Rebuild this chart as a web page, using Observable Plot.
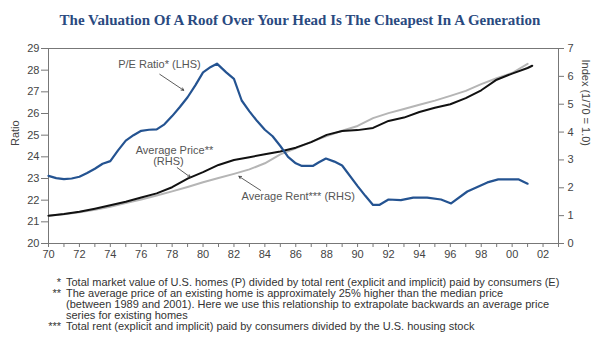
<!DOCTYPE html>
<html><head><meta charset="utf-8">
<script src="https://cdn.jsdelivr.net/npm/d3@7"></script>
<script src="https://cdn.jsdelivr.net/npm/@observablehq/plot@0.6"></script>
<style>
body{margin:0;background:#fff;width:600px;height:350px;overflow:hidden;font-family:"Liberation Sans",Arial,sans-serif;}
#title{height:38px;line-height:40px;text-align:center;font-family:"Liberation Serif","Times New Roman",serif;font-weight:bold;font-size:15px;color:#2a4a7f;white-space:nowrap;}
#notes{font-size:11px;color:#333;margin-top:14px;line-height:11px;}
.row{display:flex;white-space:nowrap;}
.mk{width:66px;text-align:right;padding-right:5px;box-sizing:border-box;flex:none;}
</style></head>
<body>
<div id="title">The Valuation Of A Roof Over Your Head Is The Cheapest In A Generation</div>
<div id="chart"></div>
<div id="notes">
<div class="row"><span class="mk">*</span><span>Total market value of U.S. homes (P) divided by total rent (explicit and implicit) paid by consumers (E)</span></div>
<div class="row"><span class="mk">**</span><span>The average price of an existing home is approximately 25% higher than the median price<br>(between 1989 and 2001). Here we use this relationship to extrapolate backwards an average price<br>series for existing homes</span></div>
<div class="row"><span class="mk">***</span><span>Total rent (explicit and implicit) paid by consumers divided by the U.S. housing stock</span></div>
</div>
<script>
// P/E ratio (LHS)
const peYears = [1970.0,1970.5,1971.0,1971.5,1972.0,1972.5,1973.0,1973.5,1974.0,1974.5,1975.0,1975.5,1976.0,1976.5,1977.0,1977.5,1978.0,1978.5,1979.0,1979.5,1980.0,1980.5,1980.9,1981.5,1982.0,1982.5,1983.0,1983.5,1984.0,1984.5,1985.0,1985.5,1986.0,1986.4,1987.1,1987.5,1987.95,1988.5,1989.0,1990.0,1990.5,1991.0,1991.4,1992.0,1992.8,1993.6,1994.5,1995.4,1996.05,1997.1,1998.4,1999.1,2000.4,2001.0];
const peValues = [23.12,23.02,22.97,23.0,23.08,23.25,23.45,23.68,23.8,24.3,24.75,25.0,25.2,25.25,25.27,25.5,25.88,26.3,26.75,27.3,27.9,28.15,28.3,27.9,27.6,26.6,26.1,25.65,25.25,24.95,24.5,24.0,23.7,23.58,23.58,23.75,23.92,23.78,23.6,22.65,22.2,21.78,21.78,22.03,22.0,22.12,22.12,22.03,21.85,22.4,22.82,22.96,22.96,22.76];
// Average price index (RHS, 1/70 = 1.0)
const priceYears = [1970,1971,1972,1973,1974,1975,1976,1977,1978,1979,1980,1981,1982,1983,1984,1985,1986,1987,1988,1989,1990,1991,1992,1993,1994,1995,1996,1997,1998,1999,2000,2001,2001.3];
const priceValues = [1.0,1.06,1.14,1.25,1.37,1.5,1.65,1.8,2.02,2.33,2.56,2.82,3.0,3.1,3.2,3.3,3.44,3.64,3.9,4.04,4.07,4.15,4.4,4.52,4.72,4.87,5.0,5.22,5.5,5.88,6.1,6.3,6.38];
// Average rent index (RHS, 1/70 = 1.0)
const rentYears = [1970,1971,1972,1973,1974,1975,1976,1977,1978,1979,1980,1981,1982,1983,1984,1985,1986,1987,1988,1989,1990,1991,1992,1993,1994,1995,1996,1997,1998,1999,2000,2001];
const rentValues = [1.0,1.05,1.12,1.21,1.32,1.45,1.58,1.72,1.87,2.03,2.2,2.35,2.5,2.66,2.88,3.2,3.42,3.65,3.86,4.05,4.22,4.5,4.68,4.83,4.98,5.13,5.3,5.48,5.72,5.93,6.12,6.45];
// Axis ticks
const leftTicks = [20,21,22,23,24,25,26,27,28,29];
const rightTicks = [0,1,2,3,4,5,6,7];
const yearTicks = d3.range(1970, 2004);
// Annotations (data units)
const annoText = ["P/E Ratio* (LHS)", "Average Price**", "(RHS)", "Average Rent*** (RHS)"];
const annoX = [1977.18, 1978.15, 1977.76, 1986.16];
const annoY = [28.27, 24.3, 23.8, 22.15];
const arrowX1 = [1977.2, 1978.33, 1983.73];
const arrowY1 = [27.81, 23.5, 22.45];
const arrowX2 = [1978.75, 1979.18, 1982.32];
const arrowY2 = [27.07, 23.06, 23.1];

// map RHS index onto LHS ratio scale: 0..7 -> 20..29
const toL = v => 20 + v * 9 / 7;
const fromL = d => (d - 20) * 7 / 9;

const pe = peYears.map((x, i) => ({x, y: peValues[i]}));
const price = priceYears.map((x, i) => ({x, y: toL(priceValues[i])}));
const rent = rentYears.map((x, i) => ({x, y: toL(rentValues[i])}));
const annos = annoText.map((t, i) => ({t, x: annoX[i], y: annoY[i]}));
const arrows = arrowX1.map((x1, i) => ({x1, y1: arrowY1[i], x2: arrowX2[i], y2: arrowY2[i]}));

const chart = Plot.plot({
  width: 600, height: 225,
  marginTop: 10, marginBottom: 20, marginLeft: 48, marginRight: 42,
  x: {domain: [1970, 2003]},
  y: {domain: [20, 29]},
  style: {fontFamily: '"Liberation Sans", Arial, sans-serif', fontSize: "11px", color: "#444", background: "#fff"},
  marks: [
    Plot.axisY({anchor: "left", ticks: leftTicks, tickSize: 7, tickPadding: 2, label: null, stroke: "#777"}),
    Plot.axisY({anchor: "right", ticks: rightTicks.map(toL), tickFormat: d => String(Math.round(fromL(d))), tickSize: 5, tickPadding: 4, label: null, stroke: "#777"}),
    Plot.axisX({ticks: yearTicks, tickFormat: d => d % 2 ? "" : String(d % 100).padStart(2, "0"), tickSize: 4, tickPadding: 3, label: null, stroke: "#777"}),
    Plot.frame({stroke: "#777"}),
    Plot.text(["Ratio"], {frameAnchor: "left", dx: -33, rotate: -90, fontSize: 11, fill: "#444"}),
    Plot.text(["Index (1/70 = 1.0)"], {frameAnchor: "right", dx: 27, rotate: 90, fontSize: 11, fill: "#444"}),
    Plot.line(rent, {x: "x", y: "y", stroke: "#b5b5b5", strokeWidth: 2}),
    Plot.line(price, {x: "x", y: "y", stroke: "#111", strokeWidth: 2}),
    Plot.line(pe, {x: "x", y: "y", stroke: "#245391", strokeWidth: 2.2}),
    Plot.arrow(arrows, {x1: "x1", y1: "y1", x2: "x2", y2: "y2", stroke: "#333", strokeWidth: 0.8, headLength: 5}),
    Plot.text(annos, {x: "x", y: "y", text: "t", fill: "#555", fontSize: 11})
  ]
});
document.getElementById("chart").append(chart);
</script>
</body></html>
